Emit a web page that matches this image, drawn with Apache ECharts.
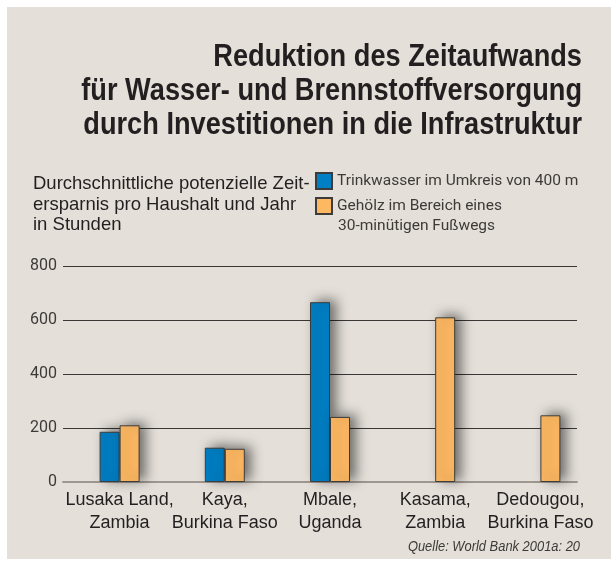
<!DOCTYPE html>
<html>
<head>
<meta charset="utf-8">
<script src="https://cdn.jsdelivr.net/npm/echarts@6/dist/echarts.min.js"></script>
<style>
  html, body { margin: 0; padding: 0; background: #fff; }
  #chart { width: 611px; height: 562px; }
</style>
</head>
<body>
<div id="chart"></div>
<script>
// Daten
var orte = ['Lusaka Land,\nZambia', 'Kaya,\nBurkina Faso', 'Mbale,\nUganda', 'Kasama,\nZambia', 'Dedougou,\nBurkina Faso'];
var trinkwasser = [186, 127, 666, null, null];
var gehoelz = [210, 123, 241, 610, 247];
var yTicks = [0, 200, 400, 600, 800];

var nameWasser = 'Trinkwasser im Umkreis von 400 m';
var nameHolz = 'Gehölz im Bereich eines';

var narrow = "Roboto, 'Liberation Sans', sans-serif";
var sans = "'Liberation Sans', Arial, sans-serif";

var chart = echarts.init(document.getElementById('chart'), null, { renderer: 'canvas' });

var option = {
  animation: false,
  backgroundColor: '#fff',
  graphic: [
    // Hintergrund
    { type: 'rect', z: -10, shape: { x: 7, y: 7, width: 604, height: 552 }, style: { fill: '#e4dfd9' } },
    // Titel
    { type: 'text', x: 582, y: 57, scaleX: 0.85, style: { text: 'Reduktion des Zeitaufwands', font: 'bold 32px ' + sans, fill: '#231f20', align: 'right', verticalAlign: 'middle' } },
    { type: 'text', x: 582, y: 91, scaleX: 0.85, style: { text: 'für Wasser- und Brennstoffversorgung', font: 'bold 32px ' + sans, fill: '#231f20', align: 'right', verticalAlign: 'middle' } },
    { type: 'text', x: 582, y: 125, scaleX: 0.85, style: { text: 'durch Investitionen in die Infrastruktur', font: 'bold 32px ' + sans, fill: '#231f20', align: 'right', verticalAlign: 'middle' } },
    // Untertitel
    { type: 'text', x: 33, y: 174, style: { text: 'Durchschnittliche potenzielle Zeit-\nersparnis pro Haushalt und Jahr\nin Stunden', font: '18.5px ' + sans, lineHeight: 20.5, fill: '#231f20', align: 'left', verticalAlign: 'top' } },
    { type: 'text', x: 338, y: 226, style: { text: '30-minütigen Fußwegs', font: '15.5px ' + narrow, fill: '#3d3a38', align: 'left', verticalAlign: 'middle' } },
    // Quelle
    { type: 'text', x: 580, y: 547, scaleX: 0.86, style: { text: 'Quelle: World Bank 2001a: 20', font: 'italic 15px ' + sans, fill: '#3d3a38', align: 'right', verticalAlign: 'middle' } }
  ],
  legend: [
    { data: [nameWasser], orient: 'vertical', left: 315, top: 171, padding: 0, itemWidth: 16, itemHeight: 16, itemGap: 6, icon: 'rect',
      textStyle: { fontFamily: narrow, fontSize: 15.5, color: '#3d3a38', lineHeight: 20 } },
    { data: [nameHolz], orient: 'vertical', left: 315, top: 196, padding: 0, itemWidth: 16, itemHeight: 16, itemGap: 6, icon: 'rect',
      textStyle: { fontFamily: narrow, fontSize: 15.5, color: '#3d3a38', lineHeight: 20 } }
  ],
  grid: [
    { left: 63, right: 34, top: 266, bottom: 80 },
    { left: 67, right: 18, top: 266, bottom: 80 }
  ],
  xAxis: [
    { type: 'category', gridIndex: 0, data: orte,
      axisLine: { show: true, lineStyle: { color: '#9e9891', width: 2 } },
      axisTick: { show: false }, axisLabel: { show: false }, splitLine: { show: false } },
    { type: 'category', gridIndex: 1, data: orte,
      axisLine: { show: false }, axisTick: { show: false },
      axisLabel: { fontFamily: sans, fontSize: 18, color: '#231f20', lineHeight: 23, margin: 7, interval: 0 } }
  ],
  yAxis: [
    { type: 'value', gridIndex: 0, min: yTicks[0], max: yTicks[yTicks.length - 1], interval: 200,
      axisLine: { show: false }, axisTick: { show: false },
      axisLabel: { fontFamily: narrow, fontSize: 16, color: '#3d3a38', margin: 6 },
      splitLine: { show: true, showMinLine: false, lineStyle: { color: '#3a3836', width: 1 } } },
    { type: 'value', gridIndex: 1, min: yTicks[0], max: yTicks[yTicks.length - 1], show: false,
      splitLine: { show: false } }
  ],
  series: [
    { name: nameWasser, type: 'bar', xAxisIndex: 1, yAxisIndex: 1, data: trinkwasser,
      barWidth: 20, barGap: '0%',
      itemStyle: { color: '#007fc4', borderColor: '#3c3c3c', borderWidth: 1,
        shadowBlur: 12, shadowColor: 'rgba(0,0,0,0.5)', shadowOffsetX: 6, shadowOffsetY: -2 } },
    { name: nameHolz, type: 'bar', xAxisIndex: 1, yAxisIndex: 1, data: gehoelz,
      barWidth: 20, barGap: '0%',
      itemStyle: { color: '#fdb862', borderColor: '#3c3c3c', borderWidth: 1,
        shadowBlur: 12, shadowColor: 'rgba(0,0,0,0.5)', shadowOffsetX: 6, shadowOffsetY: -2 } }
  ]
};

chart.setOption(option);
</script>
</body>
</html>
